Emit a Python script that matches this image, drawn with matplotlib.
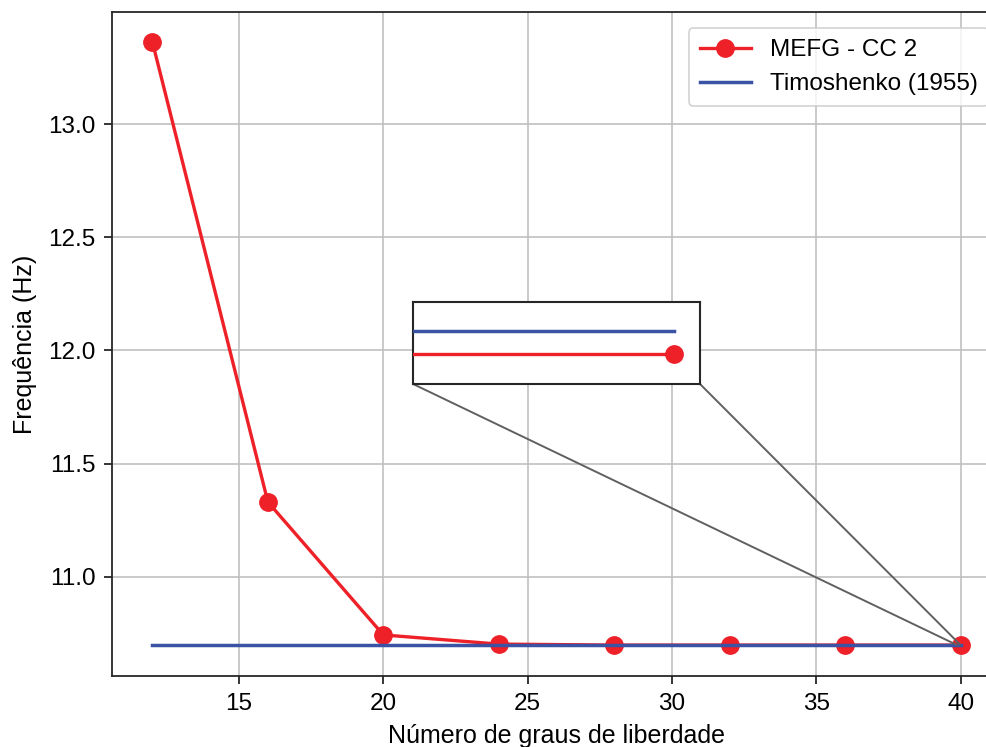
import matplotlib
matplotlib.use("Agg")
import matplotlib.pyplot as plt
from mpl_toolkits.axes_grid1.inset_locator import mark_inset

# degrees of freedom and frequencies (Hz)
dof = [12, 16, 20, 24, 28, 32, 36, 40]
freq_mefg = [13.362, 11.331, 10.744, 10.7035, 10.6992, 10.6992, 10.6992, 10.6992]
timoshenko = 10.7002
dof_ref = [12, 40]

red = "#ee2028"
blue = "#3a53a4"

plt.rcParams["font.family"] = ["Liberation Sans", "DejaVu Sans"]
plt.rcParams["font.size"] = 18

fig = plt.figure(figsize=(9.87, 7.47), dpi=100)
ax = fig.add_axes([0.1135, 0.095, 0.9007, 0.8889])

ax.plot(dof, freq_mefg, color=red, lw=2.4, marker="o", ms=12.5, label="MEFG - CC 2", zorder=3)
ax.plot(dof_ref, [timoshenko, timoshenko], color=blue, lw=2.5, label="Timoshenko (1955)", zorder=4)

ax.set_xlim(10.6, 41.4)
ax.set_ylim(10.5625, 13.4945)
ax.set_xticks([15, 20, 25, 30, 35, 40])
ax.set_yticks([11.0, 11.5, 12.0, 12.5, 13.0])
ax.grid(True, color="#c0c0c0", lw=1.2)
ax.set_axisbelow(True)
for s in ax.spines.values():
    s.set_color("#262626")
    s.set_linewidth(1.3)
ax.tick_params(direction="out", length=6, width=1.3, color="#262626", labelsize=17.5, pad=6)
ax.set_xlabel("Número de graus de liberdade", fontsize=18, labelpad=7)
ax.set_ylabel("Frequência (Hz)", fontsize=18, labelpad=8)

leg = ax.legend(loc="upper right", fontsize=17.5, frameon=True, fancybox=True,
                edgecolor="#c8c8c8", borderpad=0.45, handlelength=2.1,
                bbox_to_anchor=(1.0, 0.994))
leg.get_frame().set_linewidth(1.2)

# zoomed inset
axins = ax.inset_axes([0.3386, 0.4398, 0.3228, 0.1235])
axins.plot(dof, freq_mefg, color=red, lw=2.4, marker="o", ms=12.5, zorder=3)
axins.plot(dof_ref, [timoshenko, timoshenko], color=blue, lw=2.5, zorder=4)
axins.set_xlim(39.9, 40.01)
axins.set_ylim(10.69789, 10.70146)
axins.set_xticks([])
axins.set_yticks([])
for s in axins.spines.values():
    s.set_color("#262626")
    s.set_linewidth(1.5)
mark_inset(ax, axins, loc1=3, loc2=4, fc="none", ec="#606060", lw=1.4)

fig.savefig("out.png", dpi=100)
